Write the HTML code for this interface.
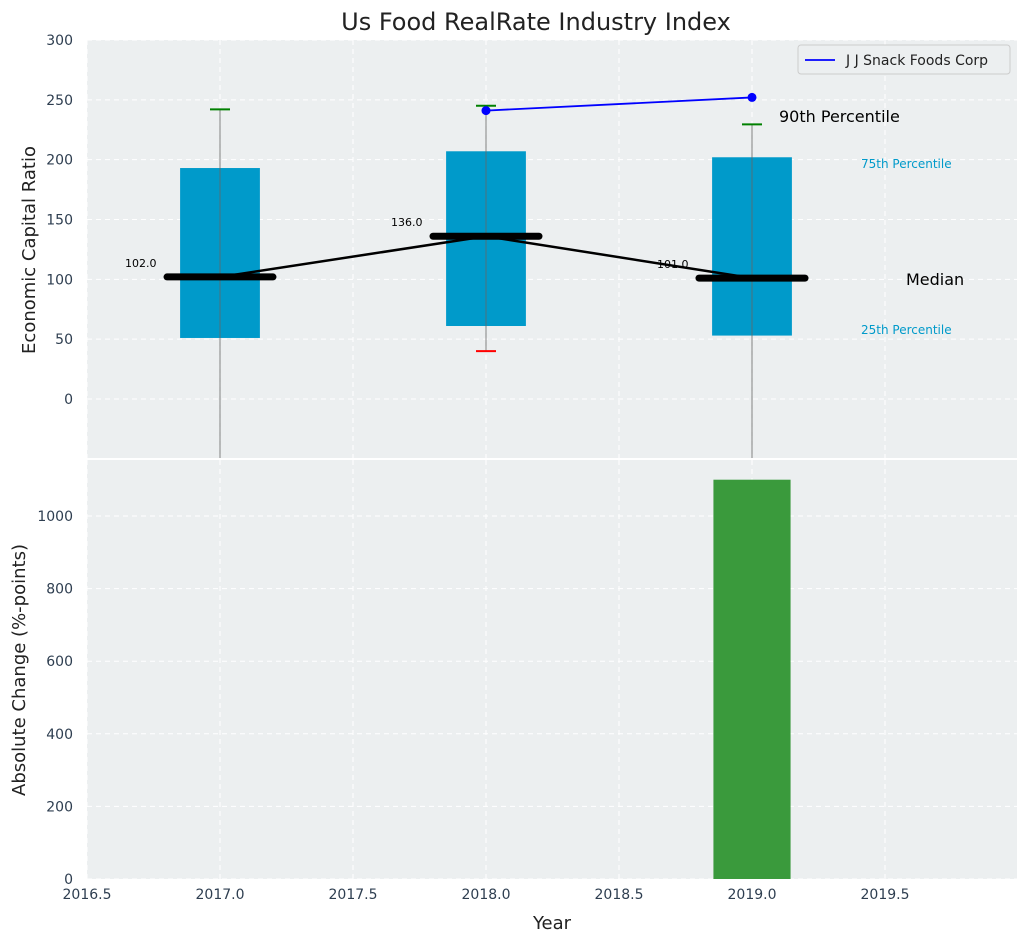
<!DOCTYPE html>
<html><head><meta charset="utf-8"><style>
body{margin:0;background:#fff;font-family:"Liberation Sans","DejaVu Sans",sans-serif}
svg text{font-family:"DejaVu Sans","Liberation Sans",sans-serif}
</style></head><body>
<svg id="chart" width="1026" height="942" xmlns="http://www.w3.org/2000/svg">
<rect width="1026" height="942" fill="#fff"/>
<text x="536" y="30" font-size="24" text-anchor="middle" fill="#222">Us Food RealRate Industry Index</text>
<g id="topg"></g><g id="botg"></g>
</svg>
<script>
const years=[2017,2018,2019];
const q1=[51,61,53];
const q3=[193,207,202];
const medians=[102,136,101];
const whiskHi=[242,245,229.5];
const whiskLo=[-80,40,-80];
const companyYears=[2018,2019];
const companyVals=[241,252];
const changeYears=[2019];
const changeVals=[1100];
const xTicks=[2016.5,2017.0,2017.5,2018.0,2018.5,2019.0,2019.5];
const topTicks=[0,50,100,150,200,250,300];
const botTicks=[0,200,400,600,800,1000];

const NS="http://www.w3.org/2000/svg";
const L=87,R=1017,T1=40,B1=458,T2=460,B2=879;
const X=v=>L+(v-2016.5)*266;
const Y1=v=>399-v*1.1967;
const Y2=v=>879-v*0.363;
function el(p,t,a,txt){const e=document.createElementNS(NS,t);for(const k in a)e.setAttribute(k,a[k]);if(txt!==undefined)e.textContent=txt;p.appendChild(e);return e;}
const gTop=document.getElementById('topg'),gBot=document.getElementById('botg');

let e=el(gTop,'rect',{x:L,y:T1,width:R-L,height:B1-T1,fill:'#eceff0'});


e=el(gBot,'rect',{x:L,y:T2,width:R-L,height:B2-T2,fill:'#eceff0'});



xTicks.forEach(t=>{
 el(gTop,'line',{x1:X(t),x2:X(t),y1:T1,y2:B1,stroke:'#fff','stroke-dasharray':'5,4','stroke-width':1});
 el(gBot,'line',{x1:X(t),x2:X(t),y1:T2,y2:B2,stroke:'#fff','stroke-dasharray':'5,4','stroke-width':1});
 const tx=el(gBot,'text',{x:X(t),y:B2+20,'font-size':14,'text-anchor':'middle',fill:'#2e3e50'},t.toFixed(1));
 
 
});
topTicks.forEach(t=>{
 el(gTop,'line',{x1:L,x2:R,y1:Y1(t),y2:Y1(t),stroke:'#fff','stroke-dasharray':'5,4','stroke-width':1});
 const tx=el(gTop,'text',{x:L-14,y:Y1(t)+5,'font-size':14,'text-anchor':'end',fill:'#2e3e50'},t);
 
 
});
botTicks.forEach(t=>{
 el(gBot,'line',{x1:L,x2:R,y1:Y2(t),y2:Y2(t),stroke:'#fff','stroke-dasharray':'5,4','stroke-width':1});
 const tx=el(gBot,'text',{x:L-14,y:Y2(t)+5,'font-size':14,'text-anchor':'end',fill:'#2e3e50'},t);
 
 
});

const defs=el(document.getElementById('chart'),'defs',{});
const cp=el(defs,'clipPath',{id:'c1'});el(cp,'rect',{x:L,y:T1,width:R-L,height:B1-T1});
const g=el(gTop,'g',{'clip-path':'url(#c1)'});

years.forEach((yr,i)=>{
 const x=X(yr),w=0.3*266;
 const b=el(g,'rect',{x:x-w/2,y:Y1(q3[i]),width:w,height:Y1(q1[i])-Y1(q3[i]),fill:'#009aca'});
 
 
 const wl=el(g,'line',{x1:x,x2:x,y1:Y1(whiskHi[i]),y2:Y1(whiskLo[i]),stroke:'#666','stroke-width':1,opacity:0.8});
 
 
 const c=el(g,'line',{x1:x-10,x2:x+10,y1:Y1(whiskHi[i]),y2:Y1(whiskHi[i]),stroke:'green','stroke-width':2});
 
 
 if(whiskLo[i]>-50){const c2=el(g,'line',{x1:x-10,x2:x+10,y1:Y1(whiskLo[i]),y2:Y1(whiskLo[i]),stroke:'red','stroke-width':2});
 
 }
});
const mp=el(g,'polyline',{points:years.map((y,i)=>X(y)+','+Y1(medians[i])).join(' '),fill:'none',stroke:'#000','stroke-width':2.5});


years.forEach((yr,i)=>{
 const x=X(yr);
 const m=el(g,'line',{x1:x-53,x2:x+53,y1:Y1(medians[i]),y2:Y1(medians[i]),stroke:'#000','stroke-width':7,'stroke-linecap':'round'});
 
 
 const t=el(g,'text',{x:x-95,y:Y1(medians[i])-10,'font-size':11,fill:'#000'},medians[i].toFixed(1));
 
 
});
const cl=el(g,'polyline',{points:companyYears.map((y,i)=>X(y)+','+Y1(companyVals[i])).join(' '),fill:'none',stroke:'blue','stroke-width':1.8});


companyYears.forEach((y,i)=>{const d=el(g,'circle',{cx:X(y),cy:Y1(companyVals[i]),r:4.5,fill:'blue'});
 
 });

[[779,122,'90th Percentile',16,'#000','label-90th'],[861,168,'75th Percentile',12,'#009aca','label-75th'],[906,285,'Median',16,'#000','label-median'],[861,334,'25th Percentile',12,'#009aca','label-25th']].forEach(a=>{
 const t=el(gTop,'text',{x:a[0],y:a[1],'font-size':a[3],fill:a[4]},a[2]);
 
 
});

const lg=el(gTop,'g',{});


el(lg,'rect',{x:798,y:45,width:212,height:29,rx:3,fill:'#eceff0',stroke:'#ccc'});
el(lg,'line',{x1:805,x2:835,y1:60,y2:60,stroke:'blue','stroke-width':1.8});
el(lg,'text',{x:846,y:65,'font-size':14,fill:'#222'},'J J Snack Foods Corp');

changeYears.forEach((y,i)=>{const w=0.29*266;
 const b=el(gBot,'rect',{x:X(y)-w/2,y:Y2(changeVals[i]),width:w,height:Y2(0)-Y2(changeVals[i]),fill:'#3a9a3c'});
 
 });

let t=el(gTop,'text',{x:35,y:250,'font-size':18,'text-anchor':'middle',fill:'#222',transform:'rotate(-90 35 250)'},'Economic Capital Ratio');


t=el(gBot,'text',{x:25,y:670,'font-size':18,'text-anchor':'middle',fill:'#222',transform:'rotate(-90 25 670)'},'Absolute Change (%-points)');


t=el(gBot,'text',{x:552,y:929,'font-size':18,'text-anchor':'middle',fill:'#222'},'Year');


</script>
</body></html>
